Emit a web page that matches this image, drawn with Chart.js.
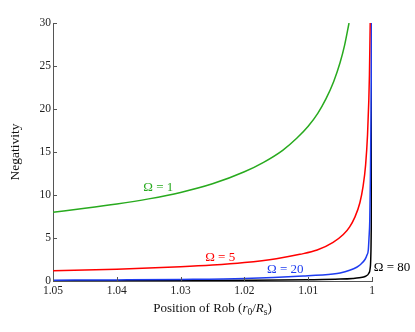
<!DOCTYPE html>
<html>
<head>
<meta charset="utf-8">
<script src="https://cdn.jsdelivr.net/npm/chart.js@4/dist/chart.umd.min.js"></script>
<style>
html,body{margin:0;padding:0;background:#fff;}
#wrap{width:415px;height:332px;position:relative;}
</style>
</head>
<body>
<div id="wrap"><canvas id="c" width="415" height="332"></canvas></div>
<script>
// ---- data ----
const xTickLabels = [1.05, 1.04, 1.03, 1.02, 1.01, 1];
const yTickLabels = [0, 5, 10, 15, 20, 25, 30];

const rOmega1 = [1.05, 1.045, 1.04, 1.035, 1.03, 1.025, 1.02, 1.017, 1.014, 1.0118, 1.01, 1.0085, 1.0072, 1.006, 1.005, 1.0043, 1.0036];
const nOmega1 = [8.0, 8.45, 8.95, 9.55, 10.3, 11.3, 12.7, 13.8, 15.2, 16.6, 18.0, 19.5, 21.2, 23.2, 25.4, 27.4, 30];

const rOmega5 = [1.05, 1.04, 1.03, 1.025, 1.02, 1.015, 1.0113, 1.0086, 1.0061, 1.0045, 1.0035, 1.0027, 1.0019, 1.0014, 1.001, 1.0007, 1.0005, 1.0004, 1.0003, 1.00028];
const nOmega5 = [1.2, 1.38, 1.65, 1.85, 2.15, 2.6, 3.1, 3.6, 4.5, 5.4, 6.3, 7.4, 9.1, 11.0, 13.5, 17, 21, 24, 29, 30];

const rOmega20 = [1.05, 1.04, 1.03, 1.02, 1.0108, 1.0061, 1.005, 1.0035, 1.0024, 1.0019, 1.0011, 1.0008, 1.00058, 1.00047, 1.00035, 1.00025, 1.00015, 1.00006];
const nOmega20 = [0.1, 0.13, 0.18, 0.29, 0.58, 0.82, 0.94, 1.25, 1.6, 1.86, 2.5, 3.0, 3.6, 5, 7, 12, 20, 30];

const rOmega80 = [1.05, 1.04, 1.03, 1.02, 1.01, 1.005, 1.003, 1.002, 1.001, 1.0005, 1.0003, 1.0002, 1.00012, 1.00008, 1.00004];
const nOmega80 = [0.03, 0.04, 0.06, 0.09, 0.15, 0.22, 0.3, 0.38, 0.55, 0.9, 1.4, 2.5, 6, 12, 30];

const seriesNames = ['Ω = 1', 'Ω = 5', 'Ω = 20', 'Ω = 80'];
const seriesColors = ['rgb(40,170,30)', 'rgb(255,0,0)', 'rgb(30,60,240)', 'rgb(0,0,0)'];
// label anchor positions (data coordinates)
const labelR = [1.0335, 1.0238, 1.0136, 0.99687];
const labelN = [10.87, 2.71, 1.34, 1.55];

const xTitleParts = [['Position of Rob (', 'n'], ['r', 'i'], ['0', 's'], ['/', 'n'], ['R', 'i'], ['s', 's'], [')', 'n']];
const yTitle = 'Negativity';

// ---- build chart ----
const SERIF = '"Liberation Serif", "DejaVu Serif", serif';
function pairs(xs, ys){ return xs.map((x,i)=>({x:x, y:ys[i]})); }
const allR = [rOmega1, rOmega5, rOmega20, rOmega80];
const allN = [nOmega1, nOmega5, nOmega20, nOmega80];
const drawOrder = [2, 1, 0, 3]; // lower = drawn on top (blue over red, black underneath)

const datasets = allR.map((rs, i) => ({
  label: seriesNames[i],
  data: pairs(rs, allN[i]),
  borderColor: seriesColors[i],
  backgroundColor: seriesColors[i],
  borderWidth: 1.5,
  pointRadius: 0,
  showLine: true,
  fill: false,
  order: drawOrder[i],
  cubicInterpolationMode: 'monotone'
}));

const decor = {
  id: 'decor',
  afterDraw(chart) {
    const ctx = chart.ctx;
    const xs = chart.scales.x, ys = chart.scales.y;
    const ca = chart.chartArea;
    ctx.save();
    // inward tick marks
    ctx.strokeStyle = '#555';
    ctx.lineWidth = 1;
    xTickLabels.forEach(v => {
      const px = Math.round(xs.getPixelForValue(v)) + 0.5;
      ctx.beginPath(); ctx.moveTo(px, ca.bottom); ctx.lineTo(px, ca.bottom - 4); ctx.stroke();
    });
    yTickLabels.forEach(v => {
      const py = Math.round(ys.getPixelForValue(v)) + 0.5;
      ctx.beginPath(); ctx.moveTo(ca.left, py); ctx.lineTo(ca.left + 4, py); ctx.stroke();
    });
    // series labels
    ctx.font = '13px ' + SERIF;
    ctx.textAlign = 'center';
    ctx.textBaseline = 'middle';
    seriesNames.forEach((name, i) => {
      ctx.fillStyle = seriesColors[i];
      ctx.fillText(name, xs.getPixelForValue(labelR[i]), ys.getPixelForValue(labelN[i]));
    });
    // x title with italic parts
    const fs = 13;
    const fonts = {n: fs + 'px ' + SERIF, i: 'italic ' + fs + 'px ' + SERIF, s: '9.5px ' + SERIF};
    let total = 0;
    xTitleParts.forEach(p => { ctx.font = fonts[p[1]]; total += ctx.measureText(p[0]).width; });
    let x = (ca.left + ca.right) / 2 - total / 2;
    const base = 312;
    ctx.fillStyle = '#111';
    ctx.textAlign = 'left';
    ctx.textBaseline = 'alphabetic';
    xTitleParts.forEach(p => {
      ctx.font = fonts[p[1]];
      ctx.fillText(p[0], x, p[1] === 's' ? base + 2.5 : base);
      x += ctx.measureText(p[0]).width;
    });
    // y title
    ctx.translate(19, (ca.top + ca.bottom) / 2);
    ctx.rotate(-Math.PI / 2);
    ctx.font = '13.5px ' + SERIF;
    ctx.textAlign = 'center';
    ctx.fillText(yTitle, 0, 0);
    ctx.restore();
  }
};

new Chart(document.getElementById('c'), {
  type: 'scatter',
  data: { datasets },
  options: {
    responsive: false,
    animation: false,
    events: [],
    layout: { padding: { left: 0, right: 43, top: 23, bottom: 0 } },
    plugins: { legend: { display: false }, tooltip: { enabled: false } },
    scales: {
      x: {
        type: 'linear',
        reverse: true,
        min: 1, max: 1.05,
        afterBuildTicks: s => { s.ticks = xTickLabels.map(v => ({ value: v })); },
        afterFit: s => { s.height = 51; },
        grid: { display: false, drawTicks: false },
        border: { display: true, color: '#555', width: 1 },
        ticks: {
          padding: 3,
          color: '#222',
          font: { family: SERIF, size: 11.5 },
          maxRotation: 0,
          autoSkip: false,
          callback: v => String(+(+v).toFixed(2))
        }
      },
      y: {
        type: 'linear',
        min: 0, max: 30,
        afterBuildTicks: s => { s.ticks = yTickLabels.map(v => ({ value: v })); },
        afterFit: s => { s.width = 53; },
        grid: { display: false, drawTicks: false },
        border: { display: true, color: '#555', width: 1 },
        ticks: {
          padding: 2,
          color: '#222',
          font: { family: SERIF, size: 11.5 },
          autoSkip: false
        }
      }
    }
  },
  plugins: [decor]
});
</script>
</body>
</html>
